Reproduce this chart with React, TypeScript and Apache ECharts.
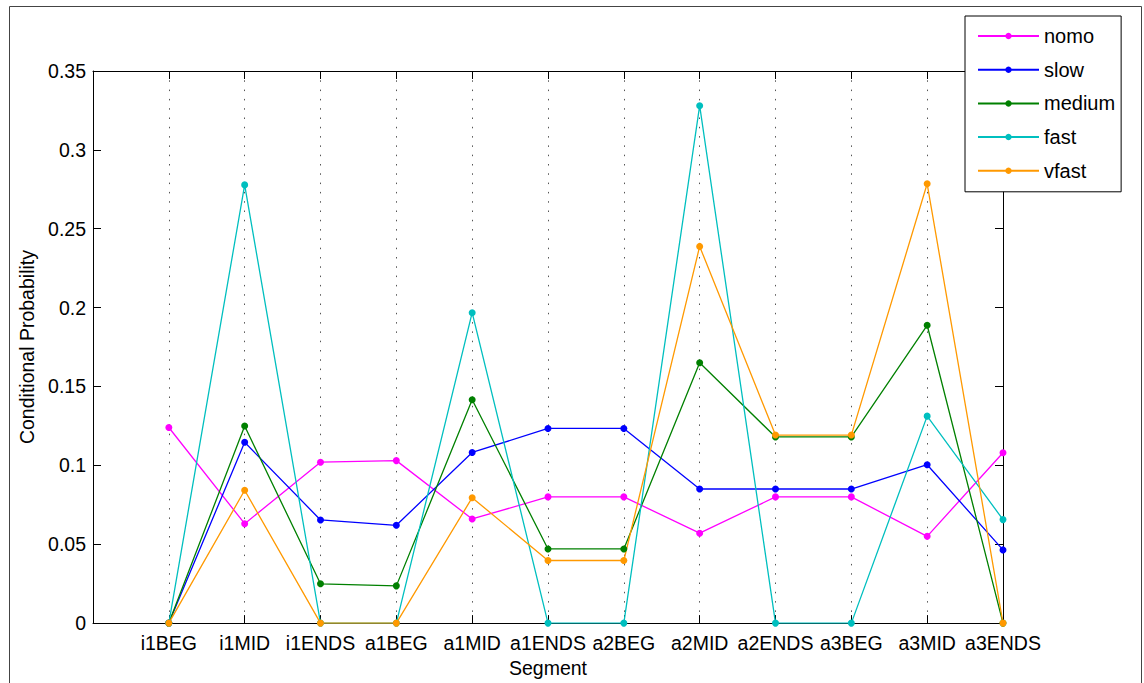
import React, { useEffect, useRef } from "react";
import * as echarts from "echarts";

const categories = ["i1BEG", "i1MID", "i1ENDS", "a1BEG", "a1MID", "a1ENDS", "a2BEG", "a2MID", "a2ENDS", "a3BEG", "a3MID", "a3ENDS"];
const nomo = [0.124, 0.063, 0.102, 0.103, 0.066, 0.080, 0.080, 0.057, 0.080, 0.080, 0.055, 0.108];
const slow = [0, 0.1146, 0.0654, 0.062, 0.1082, 0.1234, 0.1234, 0.085, 0.085, 0.085, 0.1004, 0.0464];
const medium = [0, 0.1249, 0.0249, 0.0236, 0.1416, 0.047, 0.047, 0.165, 0.118, 0.118, 0.1888, 0];
const fast = [0, 0.2778, 0, 0, 0.1968, 0, 0, 0.328, 0, 0, 0.1312, 0.0656];
const vfast = [0, 0.0842, 0, 0, 0.0795, 0.0397, 0.0397, 0.2388, 0.1192, 0.1192, 0.2785, 0];
const yTicks = [0, 0.05, 0.1, 0.15, 0.2, 0.25, 0.3, 0.35];

const seriesDefs = [
  { name: "nomo", data: nomo, color: "#ff00ff" },
  { name: "slow", data: slow, color: "#0000ff" },
  { name: "medium", data: medium, color: "#008000" },
  { name: "fast", data: fast, color: "#00bfbf" },
  { name: "vfast", data: vfast, color: "#ff9900" },
];

const FONT = "Liberation Sans, Arial, Helvetica, sans-serif";
const FS = 19.5;

function mkTick() {
  return { show: true, inside: true, length: 8, lineStyle: { color: "#000", width: 1 } };
}
function mkLine() {
  return { show: true, onZero: false, lineStyle: { color: "#000", width: 1 } };
}

export default function App() {
  const ref = useRef<HTMLDivElement>(null);
  useEffect(() => {
    if (!ref.current) return;
    const chart = echarts.init(ref.current, undefined, { renderer: "svg" });
    chart.setOption({
      animation: false,
      backgroundColor: "#fff",
      textStyle: { fontFamily: FONT },
      graphic: [
        {
          type: "rect",
          shape: { x: 9.5, y: 6.5, width: 1132, height: 700 },
          style: { fill: "none", stroke: "#444", lineWidth: 1 },
          z: 0,
          silent: true,
        },
      ],
      grid: { left: 93, right: 141, top: 71, bottom: 59, containLabel: false },
      legend: {
        orient: "vertical",
        left: 965,
        top: 16,
        padding: [10, 6, 11, 12],
        itemWidth: 61,
        itemHeight: 8,
        itemGap: 13.7,
        backgroundColor: "#fff",
        borderColor: "#000",
        borderWidth: 1,
        borderRadius: 0,
        textStyle: { fontFamily: FONT, fontSize: 20, color: "#000" },
        data: seriesDefs.map((s) => s.name),
        z: 10,
      },
      xAxis: [
        {
          type: "value",
          min: 0,
          max: 12,
          interval: 1,
          position: "bottom",
          name: "Segment",
          nameLocation: "middle",
          nameGap: 23,
          nameTextStyle: { fontFamily: FONT, fontSize: FS, color: "#000" },
          axisLine: mkLine(),
          axisTick: mkTick(),
          axisLabel: {
            inside: false,
            margin: 10,
            fontFamily: FONT,
            fontSize: FS,
            color: "#000",
            formatter: (v: number) => categories[Math.round(v) - 1] ?? "",
          },
          splitLine: { show: true, lineStyle: { color: "#555", width: 1, type: [1.5, 7.8] } },
        },
        {
          type: "value",
          min: 0,
          max: 12,
          interval: 1,
          position: "top",
          axisLine: mkLine(),
          axisTick: mkTick(),
          axisLabel: { show: false },
          splitLine: { show: false },
        },
      ],
      yAxis: [
        {
          type: "value",
          min: 0,
          max: 0.35,
          interval: 0.05,
          position: "left",
          name: "Conditional Probability",
          nameLocation: "middle",
          nameGap: 53,
          nameTextStyle: { fontFamily: FONT, fontSize: FS, color: "#000" },
          axisLine: mkLine(),
          axisTick: mkTick(),
          axisLabel: {
            inside: false,
            margin: 7,
            fontFamily: FONT,
            fontSize: FS,
            color: "#000",
            formatter: (v: number) => {
              const t = yTicks.find((y) => Math.abs(y - v) < 1e-9);
              return t === undefined ? "" : String(t);
            },
          },
          splitLine: { show: false },
        },
        {
          type: "value",
          min: 0,
          max: 0.35,
          interval: 0.05,
          position: "right",
          axisLine: mkLine(),
          axisTick: mkTick(),
          axisLabel: { show: false },
          splitLine: { show: false },
        },
      ],
      series: seriesDefs.map((s) => ({
        name: s.name,
        type: "line",
        xAxisIndex: 0,
        yAxisIndex: 0,
        data: s.data.map((v, i) => [i + 1, v]),
        symbol: "circle",
        symbolSize: 7,
        showSymbol: true,
        lineStyle: { color: s.color, width: 1.3 },
        itemStyle: { color: s.color },
        emphasis: { disabled: true },
      })),
    });
    return () => chart.dispose();
  }, []);
  return (
    <div
      ref={ref}
      style={{ position: "fixed", left: 0, top: 0, width: 1144, height: 683 }}
    />
  );
}
